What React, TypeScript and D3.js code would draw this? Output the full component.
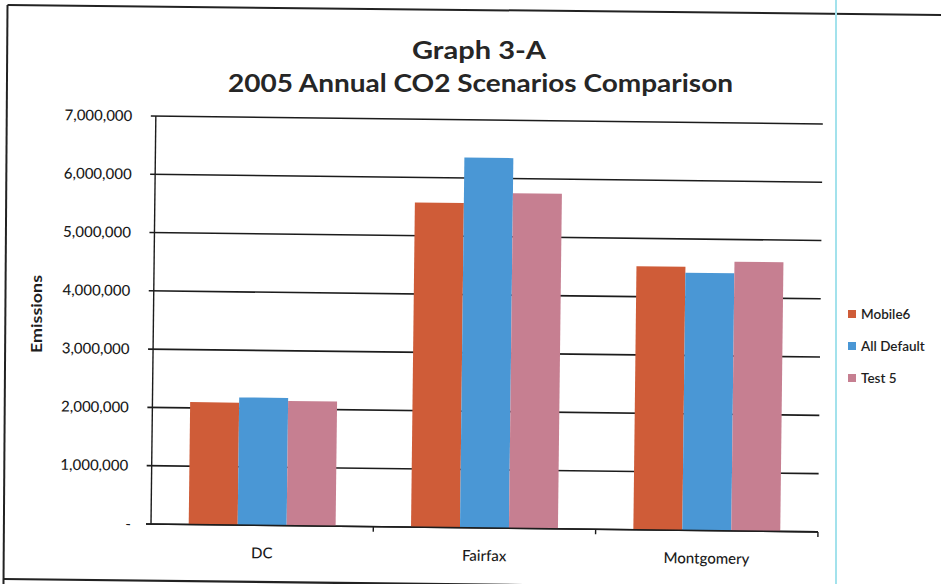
import React from "react";
import * as d3 from "d3";

// Annual CO2 emissions by jurisdiction, three modelling scenarios
const categories = ["DC", "Fairfax", "Montgomery"];
const seriesNames = ["Mobile6", "All Default", "Test 5"];
const mobile6 = [2100000, 5570000, 4520000];
const allDefault = [2190000, 6350000, 4420000];
const test5 = [2140000, 5750000, 4620000];
const yTicks = [0, 1000000, 2000000, 3000000, 4000000, 5000000, 6000000, 7000000];
const seriesColors = ["#cf5c38", "#4a97d5", "#c67f91"];

const W = 941;
const H = 584;
// plot frame (before the slight page skew is applied)
const X0 = 151;
const X1 = 818;
const Y0 = 524;
const Y1 = 116;
const SKEW = 0.68; // degrees

const FONT = "Lato, 'Open Sans', sans-serif";

export default function App() {
  const series = [mobile6, allDefault, test5];

  const x = d3.scaleBand<string>().domain(categories).range([X0, X1]).padding(0);
  const xInner = d3
    .scaleBand<string>()
    .domain(seriesNames)
    .range([0, x.bandwidth()])
    .paddingInner(0)
    .paddingOuter(0.77);
  const y = d3.scaleLinear().domain([0, 7000000]).range([Y0, Y1]);
  const fmt = d3.format(",");

  return (
    <svg
      width={W}
      height={H}
      viewBox={`0 0 ${W} ${H}`}
      style={{ position: "absolute", left: 0, top: 0, background: "#fff" }}
    >
      <rect x={0} y={0} width={W} height={H} fill="#fff" />

      {/* chart frame */}
      <line x1={7.5} y1={5} x2={W} y2={15} stroke="#222" strokeWidth={2} />
      <line x1={7.5} y1={5} x2={3.5} y2={H} stroke="#222" strokeWidth={2} />
      <line x1={3.5} y1={579} x2={W} y2={590} stroke="#222" strokeWidth={2.2} />
      <line x1={836} y1={0} x2={836} y2={H} stroke="#a3e2ec" strokeWidth={2} />

      {/* title */}
      <g fontFamily={FONT} fontWeight={700} fill="#262626" textAnchor="middle">
        <text x={479} y={59} fontSize={25} textLength={134} lengthAdjust="spacingAndGlyphs">
          Graph 3-A
        </text>
        <text x={480.5} y={92} fontSize={25} textLength={505} lengthAdjust="spacingAndGlyphs">
          2005 Annual CO2 Scenarios Comparison
        </text>
      </g>

      {/* y axis title */}
      <text
        transform={`translate(42,314) rotate(-90)`}
        textAnchor="middle"
        fontFamily={FONT}
        fontWeight={700}
        fontSize={15.5}
        fill="#1e1e1e"
        textLength={78}
        lengthAdjust="spacingAndGlyphs"
      >
        Emissions
      </text>

      <g transform={`rotate(${SKEW}, ${X0}, ${Y0})`}>
        {/* gridlines with outward ticks */}
        {yTicks.map((t) => (
          <line
            key={`g${t}`}
            x1={X0 - 5}
            x2={X1}
            y1={y(t)}
            y2={y(t)}
            stroke="#1c1c1c"
            strokeWidth={1.6}
          />
        ))}
        {/* tick labels */}
        {yTicks.map((t) => (
          <text
            key={`l${t}`}
            x={t === 0 ? 131 : 127.5}
            y={y(t)}
            dy="0.35em"
            textAnchor="end"
            fontFamily={FONT}
            fontWeight={500}
            fontSize={15}
            fill="#1a1a1a"
          >
            {t === 0 ? "-" : fmt(t)}
          </text>
        ))}

        {/* bars */}
        {categories.map((c, ci) =>
          seriesNames.map((s, si) => {
            const v = series[si][ci];
            return (
              <rect
                key={`${c}-${s}`}
                x={(x(c) as number) + (xInner(s) as number)}
                y={y(v)}
                width={xInner.bandwidth()}
                height={y(0) - y(v)}
                fill={seriesColors[si]}
              />
            );
          })
        )}

        {/* axes */}
        <line x1={X0} x2={X0} y1={Y0} y2={Y1} stroke="#1c1c1c" strokeWidth={1.4} />
        <line x1={X0 - 5} x2={X1} y1={Y0} y2={Y0} stroke="#1c1c1c" strokeWidth={1.6} />
        {categories.map((c) => {
          const bx = (x(c) as number) + x.bandwidth();
          return (
            <line key={`t${c}`} x1={bx} x2={bx} y1={Y0} y2={Y0 + 5} stroke="#1c1c1c" strokeWidth={1.4} />
          );
        })}

        {/* category labels */}
        {categories.map((c) => (
          <text
            key={`c${c}`}
            x={(x(c) as number) + x.bandwidth() / 2}
            y={Y0 + 33}
            textAnchor="middle"
            fontFamily={FONT}
            fontWeight={500}
            fontSize={15}
            fill="#1a1a1a"
          >
            {c}
          </text>
        ))}
      </g>

      {/* legend */}
      <g fontFamily={FONT} fontSize={13.5} fill="#1e1e1e">
        {seriesNames.map((s, i) => (
          <g key={s} transform={`translate(848, ${314 + i * 32})`}>
            <rect x={0} y={-4} width={8} height={8} fill={seriesColors[i]} />
            <text x={13} y={0} dy="0.35em" fontWeight={600}>
              {s}
            </text>
          </g>
        ))}
      </g>
    </svg>
  );
}
